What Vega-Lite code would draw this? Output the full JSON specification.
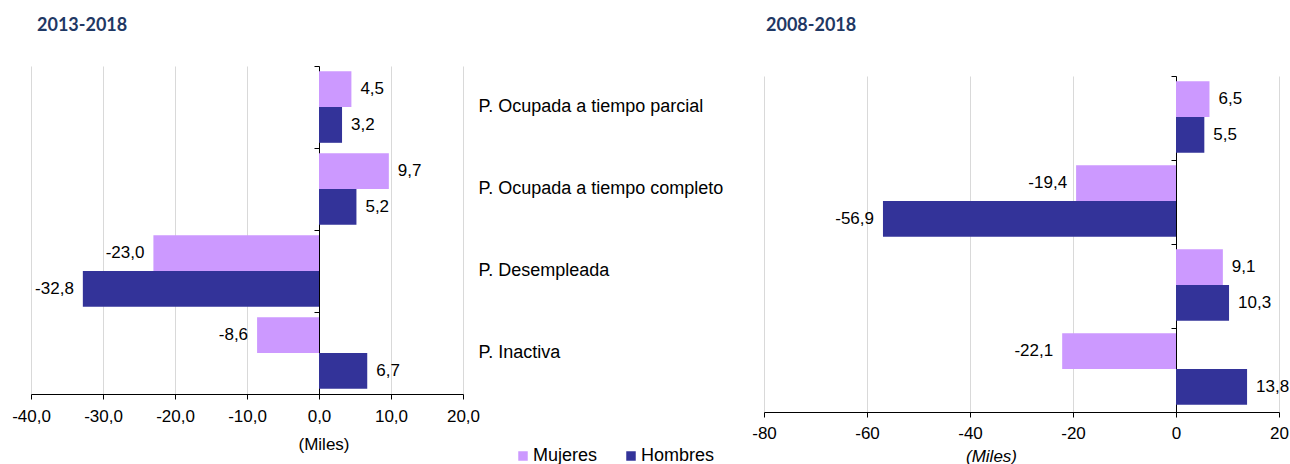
{
  "$schema": "https://vega.github.io/schema/vega-lite/v6.json",
  "padding": {"left": 11, "top": 16, "right": 0, "bottom": 0},
  "data": {"values": [
    {"periodo": "2013-2018", "categoria": "P. Ocupada a tiempo parcial", "sexo": "Mujeres", "valor": 4.5},
    {"periodo": "2013-2018", "categoria": "P. Ocupada a tiempo parcial", "sexo": "Hombres", "valor": 3.2},
    {"periodo": "2013-2018", "categoria": "P. Ocupada a tiempo completo", "sexo": "Mujeres", "valor": 9.7},
    {"periodo": "2013-2018", "categoria": "P. Ocupada a tiempo completo", "sexo": "Hombres", "valor": 5.2},
    {"periodo": "2013-2018", "categoria": "P. Desempleada", "sexo": "Mujeres", "valor": -23.0},
    {"periodo": "2013-2018", "categoria": "P. Desempleada", "sexo": "Hombres", "valor": -32.8},
    {"periodo": "2013-2018", "categoria": "P. Inactiva", "sexo": "Mujeres", "valor": -8.6},
    {"periodo": "2013-2018", "categoria": "P. Inactiva", "sexo": "Hombres", "valor": 6.7},
    {"periodo": "2008-2018", "categoria": "P. Ocupada a tiempo parcial", "sexo": "Mujeres", "valor": 6.5},
    {"periodo": "2008-2018", "categoria": "P. Ocupada a tiempo parcial", "sexo": "Hombres", "valor": 5.5},
    {"periodo": "2008-2018", "categoria": "P. Ocupada a tiempo completo", "sexo": "Mujeres", "valor": -19.4},
    {"periodo": "2008-2018", "categoria": "P. Ocupada a tiempo completo", "sexo": "Hombres", "valor": -56.9},
    {"periodo": "2008-2018", "categoria": "P. Desempleada", "sexo": "Mujeres", "valor": 9.1},
    {"periodo": "2008-2018", "categoria": "P. Desempleada", "sexo": "Hombres", "valor": 10.3},
    {"periodo": "2008-2018", "categoria": "P. Inactiva", "sexo": "Mujeres", "valor": -22.1},
    {"periodo": "2008-2018", "categoria": "P. Inactiva", "sexo": "Hombres", "valor": 13.8}
  ]},
  "config": {
    "view": {"stroke": null},
    "locale": {"number": {"decimal": ",", "thousands": ".", "grouping": [3], "currency": ["", " €"], "minus": "-"}},
    "font": "Liberation Sans",
    "axis": {"labelFont": "Liberation Sans", "labelFontSize": 17, "labelColor": "#000", "titleFont": "Liberation Sans", "titleFontSize": 17, "titleFontWeight": "normal", "titleColor": "#000", "labelFlush": false},
    "title": {"font": "Lato", "fontSize": 18, "fontWeight": "bold", "color": "#1F3864", "anchor": "start", "frame": "group", "baseline": "alphabetic"},
    "text": {"font": "Liberation Sans", "fontSize": 17, "color": "#000"}
  },
  "resolve": {"scale": {"x": "independent", "y": "independent", "color": "independent"}, "legend": {"color": "independent"}},
  "spacing": 28,
  "hconcat": [
    {
      "title": {"text": "2013-2018", "offset": 31, "dx": 6},
      "width": 432,
      "height": 328,
      "transform": [{"filter": "datum.periodo === '2013-2018'"}],
      "encoding": {
        "x": {"field": "valor", "type": "quantitative",
          "scale": {"domain": [-40, 20], "nice": false, "zero": false},
          "axis": {"values": [-40, -30, -20, -10, 0, 10, 20], "format": ".1f", "grid": true, "gridColor": "#D9D9D9", "domainColor": "#000", "tickColor": "#000", "tickSize": 5, "labelPadding": 9, "title": "(Miles)", "titleX": 292.5, "titleY": 55, "titleBaseline": "alphabetic"}},
        "yOffset": {"field": "sexo", "sort": ["Mujeres", "Hombres"], "scale": {"paddingOuter": 0.145, "paddingInner": 0}}
      },
      "layer": [
        {
          "mark": {"type": "bar"},
          "encoding": {
            "y": {"field": "categoria", "type": "nominal", "sort": ["P. Ocupada a tiempo parcial", "P. Ocupada a tiempo completo", "P. Desempleada", "P. Inactiva"], "scale": {"paddingInner": 0, "paddingOuter": 0},
              "axis": {"orient": "left", "offset": -288, "labels": false, "ticks": true, "tickSize": 5, "tickColor": "#000", "domain": true, "domainColor": "#000", "grid": false, "title": null, "bandPosition": 0}},
            "color": {"field": "sexo", "type": "nominal", "sort": ["Mujeres", "Hombres"],
              "scale": {"domain": ["Mujeres", "Hombres"], "range": ["#CC99FF", "#333399"]},
              "legend": {"orient": "none", "legendX": 483, "legendY": 381, "direction": "horizontal", "title": null, "symbolType": "square", "symbolSize": 90, "symbolStrokeWidth": 0, "labelFontSize": 18, "labelFont": "Liberation Sans", "labelColor": "#000", "columnPadding": 24, "labelOffset": 1, "padding": 0}}
          }
        },
        {
          "transform": [{"filter": "datum.valor >= 0"}],
          "mark": {"type": "text", "align": "left", "dx": 9},
          "encoding": {
            "y": {"field": "categoria", "type": "nominal", "sort": ["P. Ocupada a tiempo parcial", "P. Ocupada a tiempo completo", "P. Desempleada", "P. Inactiva"],
              "axis": {"orient": "right", "labels": true, "ticks": false, "domain": false, "grid": false, "title": null, "labelPadding": 15, "labelFontSize": 18, "labelAlign": "left", "labelBaseline": "middle", "labelLimit": 400}},
            "text": {"field": "valor", "type": "quantitative", "format": ".1f"}
          }
        },
        {
          "transform": [{"filter": "datum.valor < 0"}],
          "mark": {"type": "text", "align": "right", "dx": -9},
          "encoding": {
            "y": {"field": "categoria", "type": "nominal", "sort": ["P. Ocupada a tiempo parcial", "P. Ocupada a tiempo completo", "P. Desempleada", "P. Inactiva"], "axis": null},
            "text": {"field": "valor", "type": "quantitative", "format": ".1f"}
          }
        }
      ],
      "resolve": {"axis": {"y": "independent"}}
    },
    {
      "spacing": 9,
      "bounds": "flush",
      "vconcat": [
        {
          "title": {"text": "2008-2018", "offset": 31, "dx": 2},
          "width": 515,
          "height": 1,
          "data": {"values": []},
          "mark": {"type": "text"},
          "encoding": {}
        },
        {
          "width": 515,
          "height": 336,
          "transform": [{"filter": "datum.periodo === '2008-2018'"}],
          "encoding": {
            "x": {"field": "valor", "type": "quantitative",
              "scale": {"domain": [-80, 20], "nice": false, "zero": false},
              "axis": {"values": [-80, -60, -40, -20, 0, 20], "format": "d", "grid": true, "gridColor": "#D9D9D9", "domainColor": "#000", "tickColor": "#000", "tickSize": 5, "labelPadding": 8, "title": "(Miles)", "titleFontStyle": "italic", "titleX": 227, "titleY": 49, "titleBaseline": "alphabetic"}},
            "yOffset": {"field": "sexo", "sort": ["Mujeres", "Hombres"], "scale": {"paddingOuter": 0.15, "paddingInner": 0}}
          },
          "layer": [
            {
              "mark": {"type": "bar"},
              "encoding": {
                "y": {"field": "categoria", "type": "nominal", "sort": ["P. Ocupada a tiempo parcial", "P. Ocupada a tiempo completo", "P. Desempleada", "P. Inactiva"], "scale": {"paddingInner": 0, "paddingOuter": 0},
                  "axis": {"orient": "left", "offset": -412, "labels": false, "ticks": true, "tickSize": 5, "tickColor": "#000", "domain": true, "domainColor": "#000", "grid": false, "title": null, "bandPosition": 0}},
                "color": {"field": "sexo", "type": "nominal", "sort": ["Mujeres", "Hombres"],
                  "scale": {"domain": ["Mujeres", "Hombres"], "range": ["#CC99FF", "#333399"]}, "legend": null}
              }
            },
            {
              "transform": [{"filter": "datum.valor >= 0"}],
              "mark": {"type": "text", "align": "left", "dx": 9},
              "encoding": {
                "y": {"field": "categoria", "type": "nominal", "sort": ["P. Ocupada a tiempo parcial", "P. Ocupada a tiempo completo", "P. Desempleada", "P. Inactiva"], "axis": null},
                "text": {"field": "valor", "type": "quantitative", "format": ".1f"}
              }
            },
            {
              "transform": [{"filter": "datum.valor < 0"}],
              "mark": {"type": "text", "align": "right", "dx": -9},
              "encoding": {
                "y": {"field": "categoria", "type": "nominal", "sort": ["P. Ocupada a tiempo parcial", "P. Ocupada a tiempo completo", "P. Desempleada", "P. Inactiva"], "axis": null},
                "text": {"field": "valor", "type": "quantitative", "format": ".1f"}
              }
            }
          ],
          "resolve": {"axis": {"y": "independent"}}
        }
      ]
    }
  ]
}
